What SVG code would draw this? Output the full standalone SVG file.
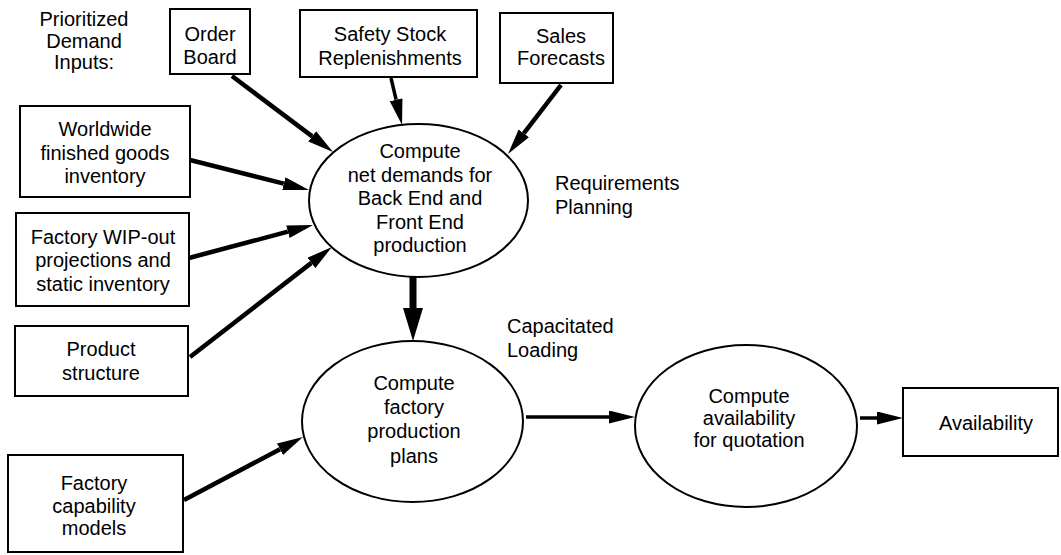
<svg xmlns="http://www.w3.org/2000/svg" width="1061" height="555" viewBox="0 0 1061 555">
  <style>
    .box { fill: #fff; stroke: #000; stroke-width: 2; }
    .proc { fill: #fff; stroke: #000; stroke-width: 2; }
    text { font-family: "Liberation Sans", Arial, Helvetica, sans-serif; font-size: 20px; fill: #000; }
    .c { text-anchor: middle; }
    .flow { stroke: #000; stroke-width: 4.5; fill: none; marker-end: url(#head); }
    .flow-thin { stroke: #000; stroke-width: 3.5; fill: none; marker-end: url(#head); }
    .flow-main { stroke: #000; stroke-width: 7; fill: none; marker-end: url(#headBig); }
  </style>
  <defs>
    <marker id="head" markerUnits="userSpaceOnUse" markerWidth="27" markerHeight="14" refX="0" refY="6.5" orient="auto">
      <path d="M0,0 L26,6.5 L0,13 z" fill="#000"/>
    </marker>
    <marker id="headBig" markerUnits="userSpaceOnUse" markerWidth="34" markerHeight="21" refX="0" refY="10" orient="auto">
      <path d="M0,0 L33,10 L0,20 z" fill="#000"/>
    </marker>
  </defs>

  <rect width="1061" height="555" fill="#fff"/>

  <!-- section labels -->
  <g id="label-inputs">
    <text class="c" x="84" y="26">Prioritized</text>
    <text class="c" x="84" y="47.5">Demand</text>
    <text class="c" x="84" y="68.5">Inputs:</text>
  </g>
  <g id="label-requirements">
    <text x="555" y="189.5">Requirements</text>
    <text x="555" y="214">Planning</text>
  </g>
  <g id="label-capacitated">
    <text x="507" y="333">Capacitated</text>
    <text x="507" y="357">Loading</text>
  </g>

  <!-- demand input boxes -->
  <g id="order-board">
    <rect class="box" x="170" y="9" width="80" height="65"/>
    <text class="c" x="210" y="41">Order</text>
    <text class="c" x="210" y="64">Board</text>
  </g>
  <g id="safety-stock">
    <rect class="box" x="300" y="10" width="177" height="67"/>
    <text class="c" x="390" y="41">Safety Stock</text>
    <text class="c" x="390" y="64.5">Replenishments</text>
  </g>
  <g id="sales-forecasts">
    <rect class="box" x="500" y="13" width="113" height="70"/>
    <text class="c" x="561" y="42.5">Sales</text>
    <text class="c" x="561" y="64.5">Forecasts</text>
  </g>
  <g id="finished-goods">
    <rect class="box" x="20" y="106" width="170" height="91"/>
    <text class="c" x="105" y="136">Worldwide</text>
    <text class="c" x="105" y="159.5">finished goods</text>
    <text class="c" x="105" y="182.5">inventory</text>
  </g>
  <g id="wip-out">
    <rect class="box" x="16" y="213" width="173" height="93"/>
    <text class="c" x="103" y="243.5">Factory WIP-out</text>
    <text class="c" x="103" y="266.5">projections and</text>
    <text class="c" x="103" y="291">static inventory</text>
  </g>
  <g id="product-structure">
    <rect class="box" x="15" y="326" width="173" height="70"/>
    <text class="c" x="101" y="356">Product</text>
    <text class="c" x="101" y="380">structure</text>
  </g>
  <g id="capability-models">
    <rect class="box" x="8" y="455" width="175" height="97"/>
    <text class="c" x="94" y="489.5">Factory</text>
    <text class="c" x="94" y="512.5">capability</text>
    <text class="c" x="94" y="534.5">models</text>
  </g>

  <!-- processes -->
  <g id="net-demands">
    <ellipse class="proc" cx="418.5" cy="200.5" rx="109.5" ry="76.5"/>
    <text class="c" x="420" y="158">Compute</text>
    <text class="c" x="420" y="182">net demands for</text>
    <text class="c" x="420" y="205">Back End and</text>
    <text class="c" x="420" y="228.5">Front End</text>
    <text class="c" x="420" y="252">production</text>
  </g>
  <g id="production-plans">
    <ellipse class="proc" cx="412.5" cy="421.5" rx="110.5" ry="80.5"/>
    <text class="c" x="414" y="390">Compute</text>
    <text class="c" x="414" y="414">factory</text>
    <text class="c" x="414" y="438">production</text>
    <text class="c" x="414" y="462.5">plans</text>
  </g>
  <g id="availability-calc">
    <ellipse class="proc" cx="746" cy="426" rx="111" ry="81"/>
    <text class="c" x="749" y="402.5">Compute</text>
    <text class="c" x="749" y="424.5">availability</text>
    <text class="c" x="749" y="446.5">for quotation</text>
  </g>

  <!-- output -->
  <g id="availability">
    <rect class="box" x="903" y="388" width="155" height="68"/>
    <text class="c" x="986" y="429.5">Availability</text>
  </g>

  <!-- connectors -->
  <g id="connectors">
    <line class="flow" x1="232" y1="76" x2="312.2" y2="136.4"/>
    <line class="flow-thin" x1="391" y1="78" x2="396.1" y2="99.7"/>
    <line class="flow" x1="561" y1="85" x2="523.8" y2="133.4"/>
    <line class="flow" x1="190" y1="160" x2="283.8" y2="183.6"/>
    <line class="flow" x1="189" y1="258" x2="287.9" y2="231.7"/>
    <line class="flow" x1="190" y1="357" x2="311.4" y2="262.9"/>
    <line class="flow-main" x1="413" y1="277" x2="413" y2="308"/>
    <line class="flow" x1="184" y1="500" x2="280" y2="449.2"/>
    <line class="flow-thin" x1="526" y1="417" x2="609" y2="417"/>
    <line class="flow-thin" x1="860" y1="418" x2="877" y2="418"/>
  </g>
</svg>
